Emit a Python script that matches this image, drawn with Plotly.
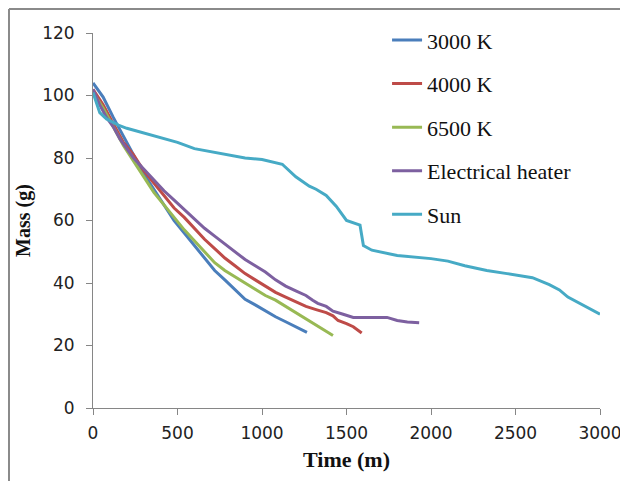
import plotly.graph_objects as go

# ---- data ----
t_3000 = [0, 60, 120, 180, 240, 300, 360, 420, 480, 540, 600, 660, 720, 780, 840, 900, 960, 1020, 1080, 1140, 1200, 1266]
m_3000 = [104, 99.5, 93, 87, 81, 75, 70, 65, 60, 56, 52, 48, 44, 41, 38, 34.8, 33, 31, 29.2, 27.6, 26, 24.2]

t_4000 = [0, 60, 120, 180, 240, 300, 360, 420, 480, 540, 600, 660, 720, 780, 840, 900, 960, 1020, 1080, 1140, 1200, 1260, 1320, 1380, 1420, 1450, 1500, 1540, 1590]
m_4000 = [102, 97, 91, 85, 81, 76, 72, 68, 64, 61, 57.5, 54, 51, 48, 45.5, 43, 41, 39, 37, 35.5, 34, 32.5, 31.5, 30.5, 29.5, 28, 27, 26, 24]

t_6500 = [0, 60, 120, 180, 240, 300, 360, 420, 480, 540, 600, 660, 720, 780, 840, 900, 960, 1020, 1080, 1140, 1200, 1260, 1320, 1380, 1420]
m_6500 = [101, 96, 90, 84, 79, 74, 69, 65, 61, 57, 53.5, 50, 46.5, 44, 42, 40, 38, 36, 34.5, 32.5, 30.5, 28.5, 26.5, 24.7, 23.2]

t_heater = [0, 40, 80, 120, 160, 200, 240, 300, 360, 420, 480, 540, 600, 660, 720, 780, 840, 900, 960, 1020, 1080, 1140, 1200, 1260, 1300, 1330, 1380, 1420, 1480, 1540, 1600, 1700, 1740, 1800, 1860, 1930]
m_heater = [102, 97, 93, 90, 86, 83, 80, 76.5, 73, 69.5, 66.5, 63.5, 60.5, 57.5, 55, 52.5, 50, 47.5, 45.5, 43.5, 41, 39, 37.5, 36, 34.5, 33.5, 32.5, 31, 30, 29, 29, 29, 29, 28, 27.5, 27.3]

t_sun = [0, 40, 80, 150, 200, 300, 400, 500, 600, 700, 800, 900, 1000, 1120, 1200, 1280, 1320, 1380, 1440, 1500, 1580, 1600, 1650, 1700, 1800, 2000, 2100, 2200, 2330, 2450, 2600, 2700, 2760, 2810, 2900, 3000]
m_sun = [101, 94.5, 92.5, 90.5, 89.5, 88, 86.5, 85, 83, 82, 81, 80, 79.5, 78, 74, 71, 70, 68, 64.5, 60, 58.5, 52, 50.5, 50, 48.8, 47.8, 47, 45.5, 44, 43, 41.7, 39.5, 37.8, 35.5, 33, 30]

series = [
    ("3000 K", t_3000, m_3000, "#4A7EBB"),
    ("4000 K", t_4000, m_4000, "#BE4B48"),
    ("6500 K", t_6500, m_6500, "#98B954"),
    ("Electrical heater", t_heater, m_heater, "#7D60A0"),
    ("Sun", t_sun, m_sun, "#46AAC5"),
]

x_ticks = [0, 500, 1000, 1500, 2000, 2500, 3000]
y_ticks = [0, 20, 40, 60, 80, 100, 120]

fig = go.Figure()
for name, x, y, c in series:
    fig.add_trace(go.Scatter(x=x, y=y, mode="lines", name=name, legendgroup=name,
                             line=dict(color=c, width=3)))

axis_col = "#868686"
tick_font = dict(family="DejaVu Sans", size=17, color="#222222")

fig.update_layout(
    width=620, height=473,
    margin=dict(l=85, r=28, t=25, b=73, autoexpand=False),
    paper_bgcolor="white", plot_bgcolor="white",
    showlegend=True,
    legend=dict(x=0.580, y=1.037, xanchor="left", yanchor="top",
                font=dict(family="Liberation Serif", size=22, color="#111111"),
                tracegroupgap=12, traceorder="grouped", bgcolor="rgba(0,0,0,0)"),
    xaxis=dict(range=[0, 3000], tickvals=x_ticks, showgrid=False, zeroline=False,
               showline=True, linecolor=axis_col, linewidth=1,
               ticks="outside", ticklen=6, tickcolor=axis_col, tickfont=tick_font,
               ticklabelstandoff=4,
               title=dict(text="<b>Time (m)</b>", standoff=9,
                          font=dict(family="Liberation Serif", size=22, color="#111111"))),
    yaxis=dict(range=[0, 120], tickvals=y_ticks, showgrid=False, zeroline=False,
               showline=True, linecolor=axis_col, linewidth=1,
               ticks="outside", ticklen=6, tickcolor=axis_col, tickfont=tick_font,
               ticklabelstandoff=8,
               title=dict(text="<b>Mass (g)</b>", standoff=6,
                          font=dict(family="Liberation Serif", size=20, color="#111111"))),
    shapes=[
        dict(type="line", xref="paper", yref="paper", x0=-0.1657, x1=-0.1657, y0=-0.2, y1=1.064,
             line=dict(color="#8a8a8a", width=2)),
        dict(type="line", xref="paper", yref="paper", x0=-0.1657, x1=1.06, y0=1.064, y1=1.064,
             line=dict(color="#8a8a8a", width=2)),
    ],
)

fig.write_html("out.html")
